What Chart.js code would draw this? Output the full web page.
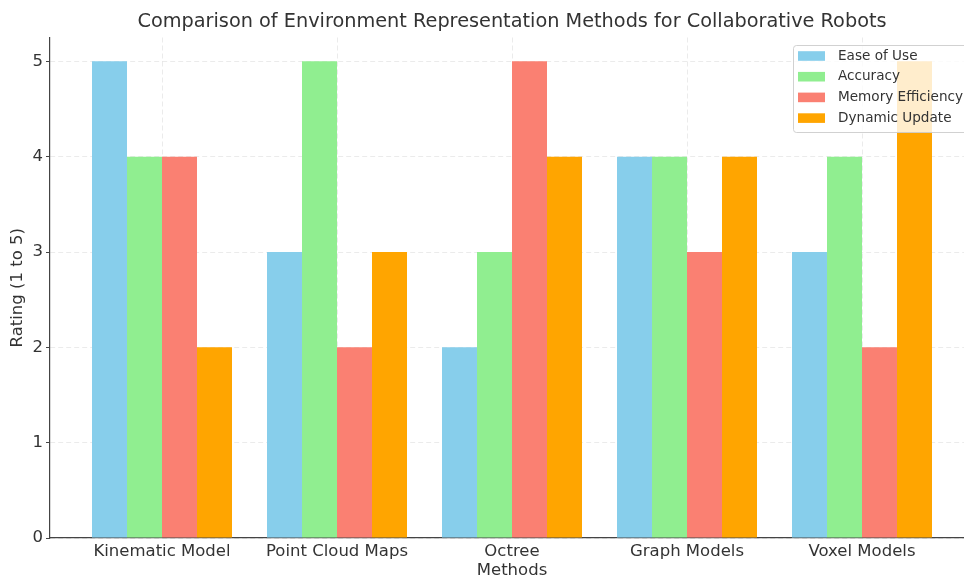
<!DOCTYPE html>
<html>
<head>
<meta charset="utf-8">
<script src="https://cdn.jsdelivr.net/npm/chart.js@4/dist/chart.umd.min.js"></script>
<style>
  html, body { margin: 0; padding: 0; background: #fff; overflow: hidden; }
  #wrap { width: 1000px; height: 580px; }
</style>
</head>
<body>
<div id="wrap"><canvas id="c" width="1000" height="580"></canvas></div>
<script>
// Methods compared and their ratings (1 to 5) per criterion
const methods = ['Kinematic Model', 'Point Cloud Maps', 'Octree', 'Graph Models', 'Voxel Models'];
const easeOfUse = [5, 3, 2, 4, 3];
const accuracy = [4, 5, 3, 4, 4];
const memoryEfficiency = [4, 2, 5, 3, 2];
const dynamicUpdate = [2, 3, 4, 4, 5];
const yTicks = [0, 1, 2, 3, 4, 5];

const FONT = "'DejaVu Sans', sans-serif";
const TEXT = '#333';

const toPoints = vals => vals.map((v, i) => ({ x: i, y: v }));

const series = [
  { label: 'Ease of Use', values: easeOfUse, color: '#87CEEB' },
  { label: 'Accuracy', values: accuracy, color: '#90EE90' },
  { label: 'Memory Efficiency', values: memoryEfficiency, color: '#FA8072' },
  { label: 'Dynamic Update', values: dynamicUpdate, color: '#FFA500' }
];

// Title above the plot area
const titlePlugin = {
  id: 'plotTitle',
  afterDraw(chart) {
    const { ctx, chartArea } = chart;
    ctx.save();
    ctx.font = `19.3px ${FONT}`;
    ctx.fillStyle = TEXT;
    ctx.textAlign = 'center';
    ctx.textBaseline = 'middle';
    ctx.fillText('Comparison of Environment Representation Methods for Collaborative Robots',
      (chartArea.left + chartArea.right) / 2, 21.5);
    ctx.restore();
  }
};

// Legend box drawn inside the top-right corner of the plot area
const innerLegend = {
  id: 'innerLegend',
  afterDatasetsDraw(chart) {
    const { ctx } = chart;
    const x0 = 793, y0 = 45, w = 184, h = 87, r = 3;
    ctx.save();
    ctx.beginPath();
    ctx.roundRect(x0 + 0.5, y0 + 0.5, w, h, r);
    ctx.fillStyle = 'rgba(255,255,255,0.8)';
    ctx.fill();
    ctx.strokeStyle = 'rgba(204,204,204,0.9)';
    ctx.lineWidth = 1;
    ctx.stroke();
    ctx.font = `13.6px ${FONT}`;
    ctx.textBaseline = 'middle';
    ctx.textAlign = 'left';
    chart.data.datasets.forEach((ds, i) => {
      const cy = 56 + i * 20.7;
      ctx.fillStyle = ds.backgroundColor;
      ctx.fillRect(798, cy - 4.8, 27, 9.6);
      ctx.fillStyle = TEXT;
      ctx.fillText(ds.label, 838, cy);
    });
    ctx.restore();
  }
};

new Chart(document.getElementById('c'), {
  type: 'bar',
  data: {
    datasets: series.map(s => ({
      label: s.label,
      data: toPoints(s.values),
      backgroundColor: s.color,
      borderWidth: 0,
      barPercentage: 1.0,
      categoryPercentage: 0.8
    }))
  },
  options: {
    responsive: false,
    animation: false,
    layout: { padding: { top: 37.5, right: 26, left: 0, bottom: 0 } },
    plugins: {
      legend: { display: false },
      title: { display: false },
      tooltip: { enabled: false }
    },
    scales: {
      x: {
        type: 'linear',
        min: -0.64,
        max: 4.64,
        offset: false,
        afterBuildTicks: s => { s.ticks = methods.map((_, i) => ({ value: i })); },
        afterFit: s => { s.height = 42; },
        ticks: {
          autoSkip: false,
          maxRotation: 0,
          padding: 4,
          color: TEXT,
          font: { family: FONT, size: 16.5 },
          callback: v => methods[v]
        },
        grid: {
          offset: false,
          color: 'rgba(0,0,0,0.08)',
          lineWidth: 1,
          drawTicks: false
        },
        border: { display: true, color: '#444', width: 1.2, dash: [5, 3] },
        title: {
          display: true,
          text: 'Methods',
          color: TEXT,
          font: { family: FONT, size: 16.5 },
          padding: { top: 0, bottom: -1 }
        }
      },
      y: {
        min: 0,
        max: 5.25,
        afterBuildTicks: s => { s.ticks = yTicks.map(v => ({ value: v })); },
        afterFit: s => { s.width = 50; },
        ticks: {
          padding: 3,
          color: TEXT,
          font: { family: FONT, size: 16.5 }
        },
        grid: {
          color: 'rgba(0,0,0,0.08)',
          lineWidth: 1,
          drawTicks: true,
          tickLength: 4,
          tickColor: '#444',
          tickWidth: 1
        },
        border: { display: true, color: '#444', width: 1.2, dash: [5, 3] },
        title: {
          display: true,
          text: 'Rating (1 to 5)',
          color: TEXT,
          font: { family: FONT, size: 16.5 },
          padding: { top: 8, bottom: 0 }
        }
      }
    }
  },
  plugins: [titlePlugin, innerLegend]
});
</script>
</body>
</html>
